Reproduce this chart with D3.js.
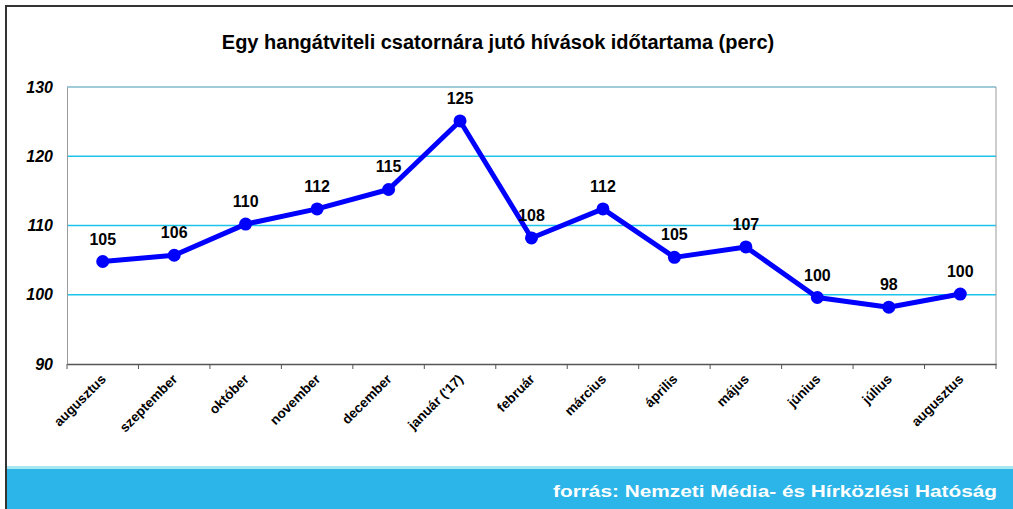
<!DOCTYPE html>
<html>
<head>
<meta charset="utf-8">
<script src="https://cdn.jsdelivr.net/npm/d3@7"></script>
<style>
  body { margin: 0; background: #fff; }
  text { font-family: "Liberation Sans", Arial, sans-serif; }
</style>
</head>
<body>
<div id="chart"></div>
<script>
// data
const months = ["augusztus", "szeptember", "október", "november", "december", "január ('17)",
  "február", "március", "április", "május", "június", "július", "augusztus"];
const minutes = [104.8, 105.7, 110.2, 112.4, 115.2, 125.1, 108.2, 112.4, 105.4, 106.9, 99.6, 98.2, 100.1];
const labels = ["105", "106", "110", "112", "115", "125", "108", "112", "105", "107", "100", "98", "100"];
const yTicks = [90, 100, 110, 120, 130];

const W = 1013, H = 509;
const margin = {top: 87, right: 17, bottom: 145, left: 67},
    width = W - margin.left - margin.right,
    height = H - margin.top - margin.bottom;

const svg = d3.select("#chart").append("svg")
    .attr("width", W).attr("height", H);

// outer frame
svg.append("rect")
    .attr("x", 6).attr("y", 6).attr("width", W).attr("height", H)
    .attr("fill", "#fff").attr("stroke", "#333").attr("stroke-width", 2);

// footer band
svg.append("rect").attr("x", 7).attr("y", 466).attr("width", W).attr("height", 3).attr("fill", "#a6e9f0");
svg.append("rect").attr("x", 7).attr("y", 469).attr("width", W).attr("height", 40).attr("fill", "#2cb5e8");
svg.append("text")
    .attr("x", 553).attr("y", 497)
    .attr("textLength", 444).attr("lengthAdjust", "spacingAndGlyphs")
    .attr("fill", "#fff")
    .style("font-size", "17px").style("font-weight", "900")
    .text("forrás: Nemzeti Média- és Hírközlési Hatóság");

svg.append("text")
    .attr("x", 498).attr("y", 49)
    .attr("text-anchor", "middle")
    .style("font-size", "20px").style("font-weight", "bold")
    .text("Egy hangátviteli csatornára jutó hívások időtartama (perc)");

const g = svg.append("g")
    .attr("transform", "translate(" + margin.left + "," + margin.top + ")");

const x = d3.scaleBand().domain(d3.range(months.length)).range([0, width]);
const y = d3.scaleLinear().domain([90, 130]).range([height, 0]);

// grid
g.selectAll(".grid").data(yTicks.filter(d => d > 90)).enter().append("line")
    .attr("x1", 0).attr("x2", width)
    .attr("y1", d => y(d)).attr("y2", d => y(d))
    .attr("stroke", d => d === 130 ? "#7fb8cc" : "#1cc4ec")
    .attr("stroke-width", 1.5);

// right border
g.append("line").attr("x1", width).attr("x2", width).attr("y1", 0).attr("y2", height)
    .attr("stroke", "#999");

// y axis
const yAxis = g.append("g")
    .call(d3.axisLeft(y).tickValues(yTicks).tickSize(0).tickPadding(14));
yAxis.select(".domain").attr("stroke", "#999");
yAxis.selectAll("text")
    .style("font-size", "16px").style("font-weight", "bold").style("font-style", "italic")
    .attr("fill", "#000");

// x axis
const xAxis = g.append("g")
    .attr("transform", "translate(0," + height + ")")
    .call(d3.axisBottom(x).tickSize(0).tickFormat(i => months[i]));
xAxis.select(".domain").attr("stroke", "#555").attr("stroke-width", 1.5);
xAxis.selectAll("text")
    .style("font-size", "13.5px").style("font-weight", "bold")
    .attr("fill", "#000")
    .attr("text-anchor", "end")
    .attr("y", 0).attr("dy", 0)
    .attr("transform", "translate(4,16) rotate(-45)");
xAxis.selectAll(".tickmark").data(d3.range(months.length + 1)).enter().append("line")
    .attr("x1", i => i * x.step()).attr("x2", i => i * x.step())
    .attr("y1", 0).attr("y2", 5)
    .attr("stroke", "#555");

const cx = i => x(i) + x.bandwidth() / 2;

const line = d3.line()
    .x((d, i) => cx(i))
    .y(d => y(d));

g.append("path")
    .datum(minutes)
    .attr("fill", "none")
    .attr("stroke", "#0000ff")
    .attr("stroke-width", 5)
    .attr("stroke-linejoin", "round")
    .attr("d", line);

g.selectAll(".dot").data(minutes).enter().append("circle")
    .attr("cx", (d, i) => cx(i))
    .attr("cy", d => y(d))
    .attr("r", 6.5)
    .attr("fill", "#0000ff");

g.selectAll(".lbl").data(minutes).enter().append("text")
    .attr("x", (d, i) => cx(i))
    .attr("y", d => y(d) - 17)
    .attr("text-anchor", "middle")
    .style("font-size", "16px").style("font-weight", "bold")
    .text((d, i) => labels[i]);
</script>
</body>
</html>
